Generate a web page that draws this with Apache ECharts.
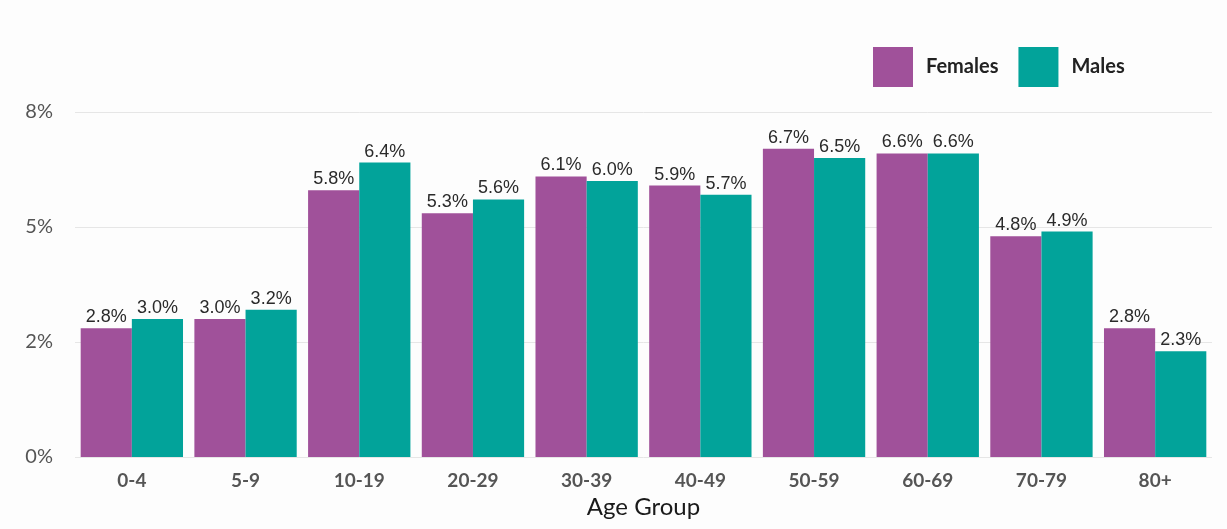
<!DOCTYPE html>
<html><head><meta charset="utf-8">
<script src="https://cdn.jsdelivr.net/npm/echarts@6/dist/echarts.min.js"></script>
<style>html,body{margin:0;padding:0;background:#fdfdfd;}#c{width:1227px;height:529px;}</style>
</head><body><div id="c"></div>
<script>
const categories = ['0-4','5-9','10-19','20-29','30-39','40-49','50-59','60-69','70-79','80+'];
const females = [2.8,3.0,5.8,5.3,6.1,5.9,6.7,6.6,4.8,2.8];
const males = [3.0,3.2,6.4,5.6,6.0,5.7,6.5,6.6,4.9,2.3];
const yTickLabels = {0:'0%',2.5:'2%',5:'5%',7.5:'8%'};

const chart = echarts.init(document.getElementById('c'), null, {renderer:'canvas'});
const lbl = {show:true, position:'top', distance:2, color:'#2a2a2a', fontSize:18, fontFamily:'Liberation Sans, Arial, sans-serif', formatter:p=>p.value.toFixed(1)+'%'};
chart.setOption({
  backgroundColor:'#fdfdfd',
  animation:false,
  legend:{left:873, top:47, padding:0, itemWidth:40, itemHeight:40, itemGap:20, icon:'rect',
    textStyle:{fontSize:20, fontWeight:'bold', color:'#222', fontFamily:'Lato, sans-serif', padding:[0,0,0,8]},
    data:['Females','Males']},
  grid:{left:75, right:15, top:112, bottom:72},
  xAxis:{type:'category', data:categories, axisTick:{show:false}, axisLine:{show:false},
    axisLabel:{fontSize:19, fontWeight:'bold', color:'#555', margin:14, fontFamily:'Lato, sans-serif'},
    name:'Age Group', nameLocation:'middle', nameGap:38,
    nameTextStyle:{fontSize:24, color:'#1a1a1a', fontFamily:'Lato, sans-serif'}},
  yAxis:{type:'value', min:0, max:7.5, interval:2.5,
    axisLabel:{fontSize:20, color:'#555', margin:22, fontFamily:'Lato, sans-serif', formatter:v=>yTickLabels[v]},
    splitLine:{lineStyle:{color:'#e6e6e6', width:1}}},
  series:[
    {name:'Females', type:'bar', data:females, barGap:'0%', barCategoryGap:'10%', itemStyle:{color:'#a0519a'}, label:lbl},
    {name:'Males', type:'bar', data:males, itemStyle:{color:'#02a39a'}, label:lbl}
  ]
});
</script></body></html>
